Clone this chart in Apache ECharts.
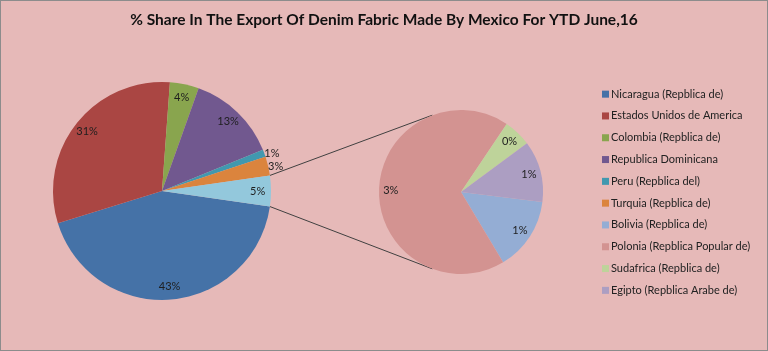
<!DOCTYPE html>
<html>
<head>
<meta charset="utf-8">
<script src="https://cdn.jsdelivr.net/npm/echarts@6/dist/echarts.min.js"></script>
<style>
  html, body { margin: 0; padding: 0; background: #ffffff; }
  #chart { width: 766px; height: 349px; border: 1px solid #8c8c8c; background: #E6B9B8; }
</style>
</head>
<body>
<div id="chart"></div>
<script>
// ---- data ----
var titleText = '% Share In The Export Of Denim Fabric Made By Mexico For YTD June,16';
var primaryNames = ['Nicaragua (Repblica de)', 'Estados Unidos de America', 'Colombia (Repblica de)', 'Republica Dominicana', 'Peru (Repblica del)', 'Turquia (Repblica de)'];
var primaryValues = [43.0, 31.0, 4.3, 13.4, 1.1, 2.8];
var secondaryNames = ['Bolivia (Repblica de)', 'Polonia (Repblica Popular de)', 'Sudafrica (Repblica de)', 'Egipto (Repblica Arabe de)'];
var secondaryValues = [0.66, 3.1, 0.25, 0.55];
var otherName = 'Other';

// ---- styles / layout ----
var primaryColors = ['#4572A7', '#AA4643', '#89A54E', '#71588F', '#4198AF', '#DB843D'];
var otherColor = '#93C8DC';
var secondaryColors = ['#94ADD4', '#D39391', '#BED39A', '#AC9EC2'];
var font = 'Lato, "Liberation Sans", sans-serif';
var C1 = [161, 190], R1 = 109;
var C2 = [460, 191], R2 = 82;

var otherValue = secondaryValues.reduce(function (a, b) { return a + b; }, 0);
var total = primaryValues.reduce(function (a, b) { return a + b; }, 0) + otherValue;
var otherAngle = otherValue / total * 360;
var start1 = -otherAngle / 2;
var start2 = -7;

var pctFmt = function (p) { return Math.round(p.value) + '%'; };

var pData = primaryNames.map(function (n, i) {
  return { name: n, value: primaryValues[i], itemStyle: { color: primaryColors[i] } };
});
pData.push({ name: otherName, value: otherValue, itemStyle: { color: otherColor } });
var sData = secondaryNames.map(function (n, i) {
  return { name: n, value: secondaryValues[i], itemStyle: { color: secondaryColors[i] } };
});

// label-only overlay data (small slices labelled outside)
var pLabelData = pData.map(function (d, i) {
  var o = { name: d.name, value: d.value };
  if (d.name === primaryNames[4] || d.name === primaryNames[5]) {
    o.label = { position: 'outside', distanceToLabelLine: 0 };
    o.labelLine = { show: false, length: 0, length2: 0 };
  }
  return o;
});

var labelStyle = { fontFamily: font, fontSize: 11, color: '#1e1e1e' };

function rad(a) { return a * Math.PI / 180; }
var aTop = start1 + otherAngle, aBot = start1;
var p1 = [C1[0] + R1 * Math.cos(rad(aTop)), C1[1] - R1 * Math.sin(rad(aTop))];
var p2 = [C1[0] + R1 * Math.cos(rad(aBot)), C1[1] - R1 * Math.sin(rad(aBot))];
var connA = 110.5;
var q1 = [C2[0] + R2 * Math.cos(rad(connA)), C2[1] - R2 * Math.sin(rad(connA))];
var q2 = [C2[0] + R2 * Math.cos(rad(-connA)), C2[1] - R2 * Math.sin(rad(-connA))];

var chart = echarts.init(document.getElementById('chart'), null, { renderer: 'canvas' });
chart.setOption({
  animation: false,
  title: {
    text: titleText, left: 'center', top: 6,
    textStyle: { fontFamily: font, fontSize: 15.5, fontWeight: 'bold', color: '#111' }
  },
  legend: {
    orient: 'vertical', left: 596, top: 82,
    data: primaryNames.concat(secondaryNames),
    icon: 'rect', itemWidth: 7, itemHeight: 7, itemGap: 9.5,
    selectedMode: false,
    textStyle: { fontFamily: font, fontSize: 11, color: '#222', lineHeight: 12.3, padding: [0, 0, 0, -3] }
  },
  graphic: [
    { type: 'line', silent: true, shape: { x1: p1[0], y1: p1[1], x2: q1[0], y2: q1[1] }, style: { stroke: '#404040', lineWidth: 1 } },
    { type: 'line', silent: true, shape: { x1: p2[0], y1: p2[1], x2: q2[0], y2: q2[1] }, style: { stroke: '#404040', lineWidth: 1 } }
  ],
  series: [
    {
      type: 'pie', center: C1, radius: [0, R1], startAngle: start1, clockwise: true,
      silent: true, label: { show: false }, labelLine: { show: false },
      itemStyle: { borderWidth: 0 }, data: pData
    },
    {
      type: 'pie', center: C2, radius: [0, R2], startAngle: start2, clockwise: true,
      silent: true, label: { show: false }, labelLine: { show: false },
      itemStyle: { borderWidth: 0 }, data: sData
    },
    {
      type: 'pie', center: C1, radius: [R1 * 0.7, R1], startAngle: start1, clockwise: true,
      silent: true, avoidLabelOverlap: false,
      itemStyle: { color: 'rgba(0,0,0,0)', borderWidth: 0 },
      label: Object.assign({ show: true, position: 'inside', formatter: pctFmt }, labelStyle),
      labelLine: { show: false, length: 0, length2: 0 },
      data: pLabelData
    },
    {
      type: 'pie', center: C2, radius: [R2 * 0.64, R2], startAngle: start2, clockwise: true,
      silent: true, avoidLabelOverlap: false,
      itemStyle: { color: 'rgba(0,0,0,0)', borderWidth: 0 },
      label: Object.assign({ show: true, position: 'inside', formatter: pctFmt }, labelStyle),
      labelLine: { show: false },
      data: secondaryNames.map(function (n, i) { return { name: n, value: secondaryValues[i] }; })
    }
  ]
});
</script>
</body>
</html>
